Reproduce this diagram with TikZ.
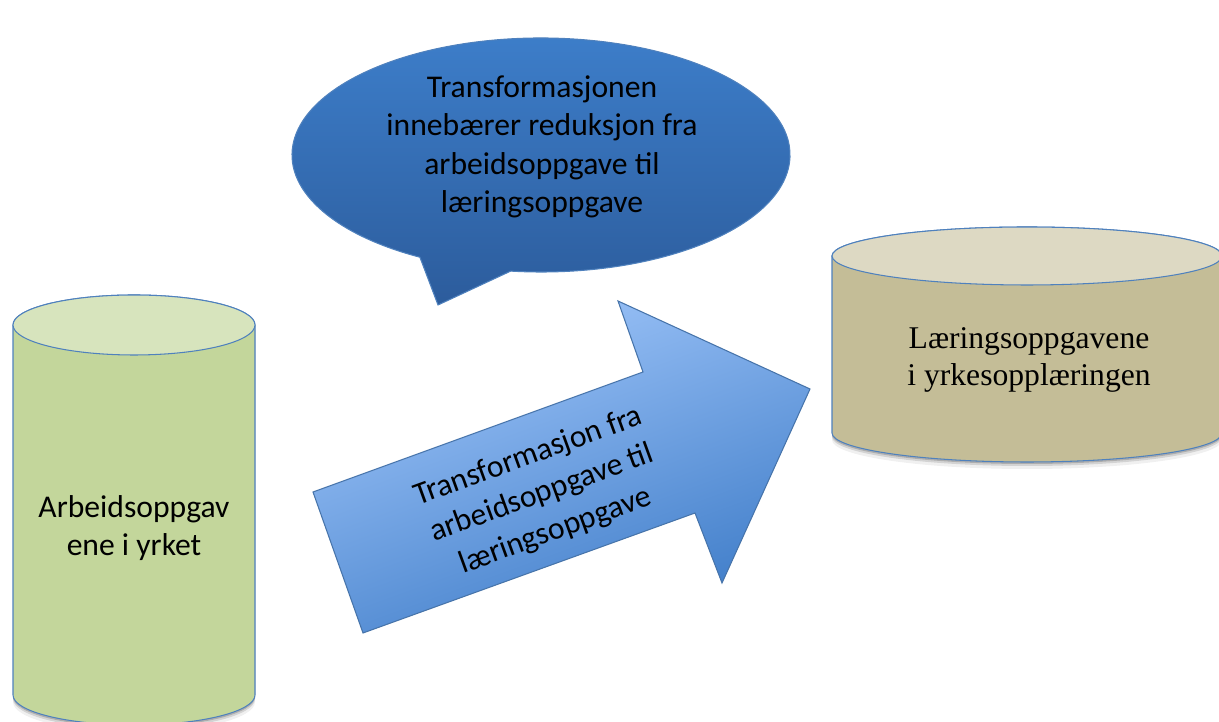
\documentclass[tikz,border=0pt]{standalone}
\usepackage{fontspec}
\setmainfont{Carlito}
\newfontfamily\timesfont{Liberation Serif}
\usetikzlibrary{positioning,calc,shadings}
\definecolor{kant}{RGB}{79,129,189}
\definecolor{gronn}{RGB}{195,214,155}
\definecolor{gronntopp}{RGB}{215,228,189}
\definecolor{brun}{RGB}{196,189,151}
\definecolor{bruntopp}{RGB}{221,217,195}
\definecolor{bobletopp}{RGB}{61,126,202}
\definecolor{boblebunn}{RGB}{44,92,156}
\definecolor{pillys}{RGB}{160,198,250}
\definecolor{pilmork}{RGB}{62,124,200}

\begin{document}
\begin{tikzpicture}[x=0.02cm,y=0.02cm,
every node/.style={align=center,inner sep=0pt},
txt/.style={font=\fontsize{18}{21.8}\selectfont},
piltxt/.style={font=\fontsize{18}{22.6}\selectfont},
serif/.style={font=\timesfont\fontsize{18}{21}\selectfont},
kantlinje/.style={draw=kant,line width=0.6pt}]
\useasboundingbox (0,0) rectangle (1219,722);
% skygger
\foreach \d/\o in {2/0.18,4/0.12,7/0.06}{
\fill[black,opacity=\o] (13,397-\d) -- (13,27-\d) arc[start angle=180,end angle=360,x radius=121,y radius=30] -- (255,397-\d) -- cycle;
\fill[black,opacity=\o] (832,466-\d) -- (832,289-\d) arc[start angle=180,end angle=360,x radius=195,y radius=29] -- (1222,466-\d) -- cycle;
}
% venstre sylinder
\draw[kantlinje,fill=gronn] (13,397) -- (13,27) arc[start angle=180,end angle=360,x radius=121,y radius=30] -- (255,397) arc[start angle=0,end angle=180,x radius=121,y radius=30] -- cycle;
\draw[kantlinje,fill=gronntopp] (134,397) ellipse[x radius=121,y radius=30];
\node[txt] (arbeid) at (134,194) {Arbeidsoppgav\\ene i yrket};
% hoyre sylinder
\draw[kantlinje,fill=brun] (832,466) -- (832,289) arc[start angle=180,end angle=360,x radius=195,y radius=29] -- (1222,466) arc[start angle=0,end angle=180,x radius=195,y radius=29] -- cycle;
\draw[kantlinje,fill=bruntopp] (1027,466) ellipse[x radius=195,y radius=29];
\node[serif] (laering) at (1029,362) {Læringsoppgavene\\i yrkesopplæringen};
% snakkeboble
\coordinate (midt) at (541,567);
\coordinate (spiss) at (438,417);
\draw[kantlinje,top color=bobletopp,bottom color=boblebunn] ($(midt)+(240.9:249 and 117)$) -- (spiss) -- ($(midt)+(263:249 and 117)$) arc[start angle=263,end angle=600.9,x radius=249,y radius=117] -- cycle;
\node[txt] (boble) at (542,575) {Transformasjonen\\innebærer reduksjon fra\\arbeidsoppgave til\\læringsoppgave};
% pil
\draw[draw=kant!90!black,line width=0.6pt,top color=pillys,bottom color=pilmork,shading angle=20]
(313,230) -- (643,350) -- (618,421) -- (810,333) -- (722,139) -- (695,209) -- (363,89) -- cycle;
\node[piltxt,rotate=20] (pil) at (542,228) {Transformasjon fra\\arbeidsoppgave til\\læringsoppgave};
\end{tikzpicture}
\end{document}
